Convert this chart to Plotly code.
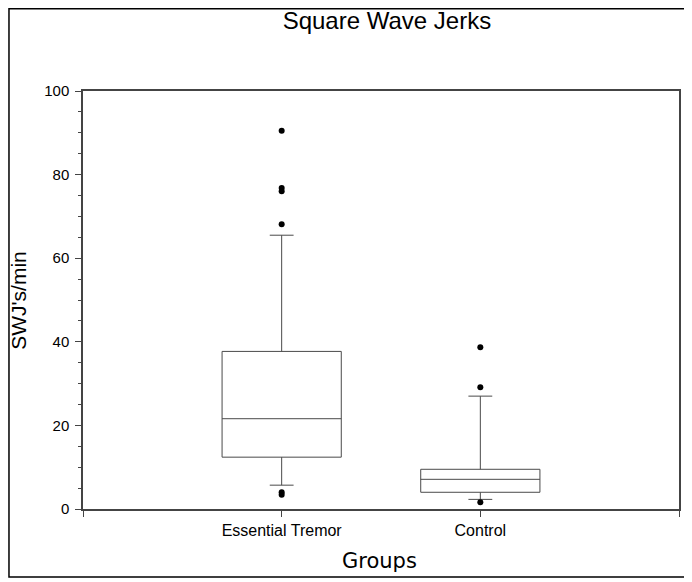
import plotly.graph_objects as go

groups = ["Essential Tremor", "Control"]
group_pos = [0, 1]

q1 = [12.4, 4.0]
median = [21.6, 7.1]
q3 = [37.7, 9.5]
lower_fence = [5.7, 2.3]
upper_fence = [65.5, 27.0]

et_outliers = [90.5, 76.8, 76.0, 68.1, 4.0, 3.4]
ctrl_outliers = [38.7, 29.1, 1.6]

fig = go.Figure()

for i, name in enumerate(groups):
    fig.add_trace(go.Box(
        x=[group_pos[i]],
        q1=[q1[i]], median=[median[i]], q3=[q3[i]],
        lowerfence=[lower_fence[i]], upperfence=[upper_fence[i]],
        name=name,
        width=0.6,
        whiskerwidth=0.2,
        fillcolor="rgba(0,0,0,0)",
        line=dict(color="#4a4a4a", width=1),
        boxpoints=False,
        hoverinfo="y",
    ))

fig.add_trace(go.Scatter(
    x=[group_pos[0]] * len(et_outliers) + [group_pos[1]] * len(ctrl_outliers),
    y=et_outliers + ctrl_outliers,
    mode="markers",
    marker=dict(color="black", size=6),
    hoverinfo="y",
))

axis_color = "#444444"
fig.update_xaxes(
    range=[-1, 2],
    tickvals=[-1, 0, 1, 2],
    ticktext=["", "Essential Tremor", "Control", ""],
    ticks="outside", ticklen=6, tickcolor=axis_color,
    showline=True, linecolor=axis_color, linewidth=1.5, mirror=True,
    showgrid=False, zeroline=False,
    tickfont=dict(size=16, color="black"),
)
fig.update_yaxes(
    range=[0, 100],
    tickvals=[0, 20, 40, 60, 80, 100],
    ticks="outside", ticklen=6, tickcolor=axis_color,
    minor=dict(dtick=5, ticks="outside", ticklen=3, tickcolor=axis_color),
    showline=True, linecolor=axis_color, linewidth=1.5, mirror=True,
    showgrid=False, zeroline=False,
    ticklabelstandoff=3,
    tickfont=dict(size=15, color="black"),
)

fig.add_annotation(text="SWJ's/min", xref="paper", yref="paper",
                   x=-0.1095, y=0.5, textangle=-90, showarrow=False,
                   xanchor="center", yanchor="middle",
                   font=dict(size=21, color="black"))
fig.add_annotation(text="Groups", xref="paper", yref="paper",
                   x=0.497, y=-0.1244, showarrow=False,
                   xanchor="center", yanchor="middle",
                   font=dict(family="DejaVu Sans", size=21, color="black"))

# frame round the whole picture
fig.add_shape(type="rect", xref="paper", yref="paper",
              x0=-0.1242, x1=1.0117, y0=-0.1627, y1=1.1968,
              line=dict(color="black", width=1.5))

# page body has an 8px margin, so the figure is a little smaller than the window
fig.update_layout(
    width=684, height=574,
    title=dict(text="Square Wave Jerks", x=0.554, xanchor="center",
               y=0.9774, yanchor="middle",
               font=dict(size=24, color="black")),
    font=dict(family="Liberation Sans, Arial, sans-serif", color="black"),
    showlegend=False,
    plot_bgcolor="white", paper_bgcolor="white",
    margin=dict(l=75, r=11, t=83, b=73),
)

fig.write_html("out.html")
